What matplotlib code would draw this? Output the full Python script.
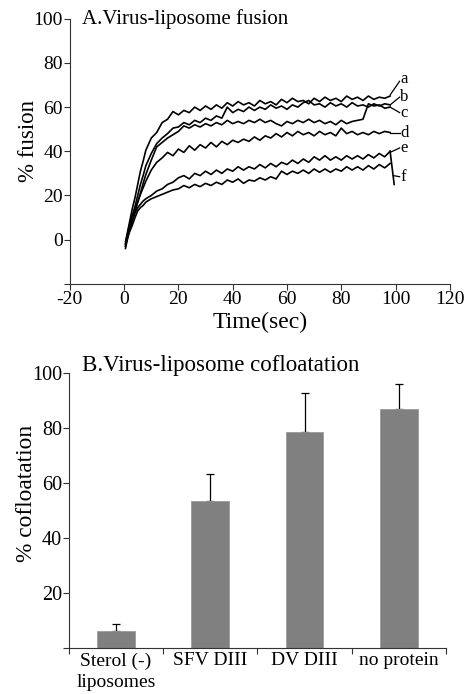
import matplotlib
matplotlib.use('Agg')
import matplotlib.pyplot as plt

plt.rcParams['font.family'] = ['Liberation Serif', 'DejaVu Serif']
plt.rcParams['axes.unicode_minus'] = False

# --- A: virus-liposome fusion (okunan degerler) ---
time_s = [0.5, 1, 1.5, 2, 2.5, 3, 4, 5, 6, 7,
          8, 10, 12, 14, 16, 18, 20, 22, 24, 26,
          28, 30, 32, 34, 36, 38, 40, 42, 44, 46,
          48, 50, 52, 54, 56, 58, 60, 62, 64, 66,
          68, 70, 72, 74, 76, 78, 80, 82, 84, 86,
          88, 90, 92, 94, 96, 98]

fusion_a = [-1, 2, 5, 8, 11, 14, 19, 25, 31, 35.5,
            40.5, 46, 48.5, 53, 54.5, 58, 56.5, 58.5, 57.5, 60,
            58.5, 60.5, 59, 61, 59.5, 62, 60.5, 62.5, 61, 62,
            60.5, 63, 61.5, 62.5, 61, 63.5, 62, 64, 62.5, 63,
            61.5, 64, 62.5, 64.5, 63, 64, 62.5, 65, 63.5, 64.5,
            63, 65, 63.5, 64.5, 64, 65]
fusion_b = [-2, 1, 4, 6.5, 9, 11, 15, 20, 25, 29,
            33.5, 39, 43.5, 46, 48, 50.5, 51, 53, 52, 54,
            53, 55, 54, 56, 55, 60, 57.5, 59, 58, 60,
            58.5, 60, 59, 61, 59.5, 60.5, 59, 61, 60, 62,
            63, 61, 61.5, 60, 62, 60.5, 61.5, 60, 62, 60.5,
            61, 60, 61.5, 60.5, 61.5, 61]
fusion_c = [-3, 0, 3, 5.5, 7.5, 9.5, 13, 17, 21, 25.5,
            29.5, 36, 42, 44, 46, 47.5, 49, 51.5, 50.5, 52,
            51, 52.5, 51.5, 53, 52, 54, 52.5, 53.5, 52.5, 54,
            53, 54.5, 53, 54, 52.5, 51.5, 53.5, 52.5, 54, 53,
            54.5, 53, 54, 52.5, 53.5, 52, 54, 52.5, 53.5, 54,
            54.5, 61.5, 60.5, 61, 59.5, 60]
fusion_d = [-2, 1, 3, 5, 7, 9, 13, 17, 20.5, 23.5,
            26.5, 31.5, 35, 37, 39.5, 38, 41, 39.5, 42.5, 40.5,
            43, 41.5, 44, 42, 44.5, 43, 45, 44, 45.5, 44.5,
            46.5, 45, 47, 46, 48, 46.5, 48.5, 47, 49, 47.5,
            48.5, 47, 49, 47.5, 48.5, 47, 50.5, 48, 49, 47.5,
            48.5, 47.5, 49, 48, 49, 48.5]
fusion_e = [-3, 0, 2.5, 4.5, 6.5, 8.5, 12, 14.5, 16, 17.5,
            18.5, 20, 22, 23, 25, 26, 28, 29, 27.5, 30,
            29, 31, 29.5, 31.5, 30, 32, 31, 33, 31.5, 33,
            32, 34, 32.5, 34.5, 33, 35, 34, 36, 34.5, 36.5,
            35, 37.5, 36, 38, 36, 37.5, 36, 38, 36.5, 38,
            36.5, 38.5, 37, 39, 37.5, 40]
fusion_f = [-4, -1, 1.5, 3.5, 5, 6.5, 10, 13, 14.5, 15.5,
            17, 18.5, 19.5, 20.5, 21.5, 22.5, 23, 24.5, 23.5, 25,
            24, 25.5, 24.5, 26, 25, 27, 26, 27.5, 25.5, 27,
            26.5, 28, 27, 28.5, 27.5, 31, 29.5, 31, 30, 31.5,
            30, 32, 30.5, 32, 30.5, 32, 31, 33, 31.5, 33,
            31.5, 33.5, 32, 34, 32.5, 34.5]
# e egrisinin sonundaki dusus
e_tail_t = [98, 99.5]
e_tail_y = [40, 25]

curve_names = ['a', 'b', 'c', 'd', 'e', 'f']
label_y = [72.5, 64.5, 57.5, 48.5, 41.5, 28.5]
curve_end = [65.5, 61, 60, 48.5, 39.5, 29]

# --- B: cofloatation ---
groups = ['Sterol (-)\nliposomes', 'SFV DIII', 'DV DIII', 'no protein']
cofloat = [6.3, 53.6, 78.8, 86.9]
cofloat_err = [2.4, 9.9, 14.0, 9.1]

fig = plt.figure(figsize=(4.72, 6.94), dpi=100)

# =============================================================================
# Panel A
# =============================================================================
ax1 = fig.add_axes([0.148, 0.591, 0.805, 0.382])
for ys in [fusion_a, fusion_b, fusion_c, fusion_d, fusion_e, fusion_f]:
    ax1.plot(time_s, ys, color='black', lw=1.2)
ax1.plot(e_tail_t, e_tail_y, color='black', lw=1.2)

for name, ly, ey in zip(curve_names, label_y, curve_end):
    x0 = 99.2 if name == 'f' else 98
    ax1.plot([x0, 101.5], [ey, ly - 0.8 if name == 'a' else ly],
             color='black', lw=0.9)
    ax1.text(101.8, ly, name, fontsize=12, ha='left', va='center')

ax1.set_xlim(-20, 120)
ax1.set_ylim(-20, 100)
ax1.set_xticks(range(-20, 121, 20))
ax1.set_yticks(range(-20, 101, 20))
ax1.set_yticklabels([''] + [str(v) for v in range(0, 101, 20)])
ax1.spines['top'].set_visible(False)
ax1.spines['right'].set_visible(False)
ax1.spines['left'].set_color('#333333')
ax1.spines['bottom'].set_color('#333333')
ax1.tick_params(direction='out', length=4, width=0.8, color='#333333',
                labelsize=14, pad=1)
ax1.set_xlabel('Time(sec)', fontsize=17, labelpad=3)
ax1.set_ylabel('% fusion', fontsize=16.5)
ax1.yaxis.set_label_coords(-0.082, 0.537)
ax1.text(0.032, 1.0, 'A.Virus-liposome fusion', transform=ax1.transAxes,
         fontsize=15, ha='left', va='center')

# =============================================================================
# Panel B
# =============================================================================
ax2 = fig.add_axes([0.146, 0.066, 0.799, 0.396])
pos = range(len(groups))
ax2.bar(pos, cofloat, width=0.4, color='#808080', edgecolor='#9a9a9a',
        linewidth=0.6, zorder=2)
ax2.errorbar(pos, cofloat, yerr=[[0] * len(cofloat), cofloat_err],
             fmt='none', ecolor='black', elinewidth=0.9, capsize=3,
             capthick=0.9, zorder=1)

ax2.set_xlim(-0.5, 3.5)
ax2.set_ylim(0, 100)
ax2.set_xticks(list(pos))
ax2.set_xticklabels(groups, fontsize=14, linespacing=1.3)
ax2.set_xticks([-0.5, 0.5, 1.5, 2.5, 3.5], minor=True)
ax2.tick_params(axis='x', which='major', length=0, pad=3)
ax2.tick_params(axis='x', which='minor', direction='out', length=4,
                width=0.8, color='#333333')
ax2.set_yticks(range(0, 101, 20))
ax2.set_yticklabels([''] + [str(v) for v in range(20, 101, 20)])
ax2.tick_params(axis='y', direction='out', length=4, width=0.8,
                color='#333333', labelsize=14.5, pad=1)
ax2.spines['top'].set_visible(False)
ax2.spines['right'].set_visible(False)
ax2.spines['left'].set_color('#333333')
ax2.spines['bottom'].set_color('#333333')
ax2.set_ylabel('% cofloatation', fontsize=16.8)
ax2.yaxis.set_label_coords(-0.085, 0.562)
ax2.text(0.034, 1.03, 'B.Virus-liposome cofloatation', transform=ax2.transAxes,
         fontsize=16.5, ha='left', va='center')

fig.savefig('out.png', dpi=100)
